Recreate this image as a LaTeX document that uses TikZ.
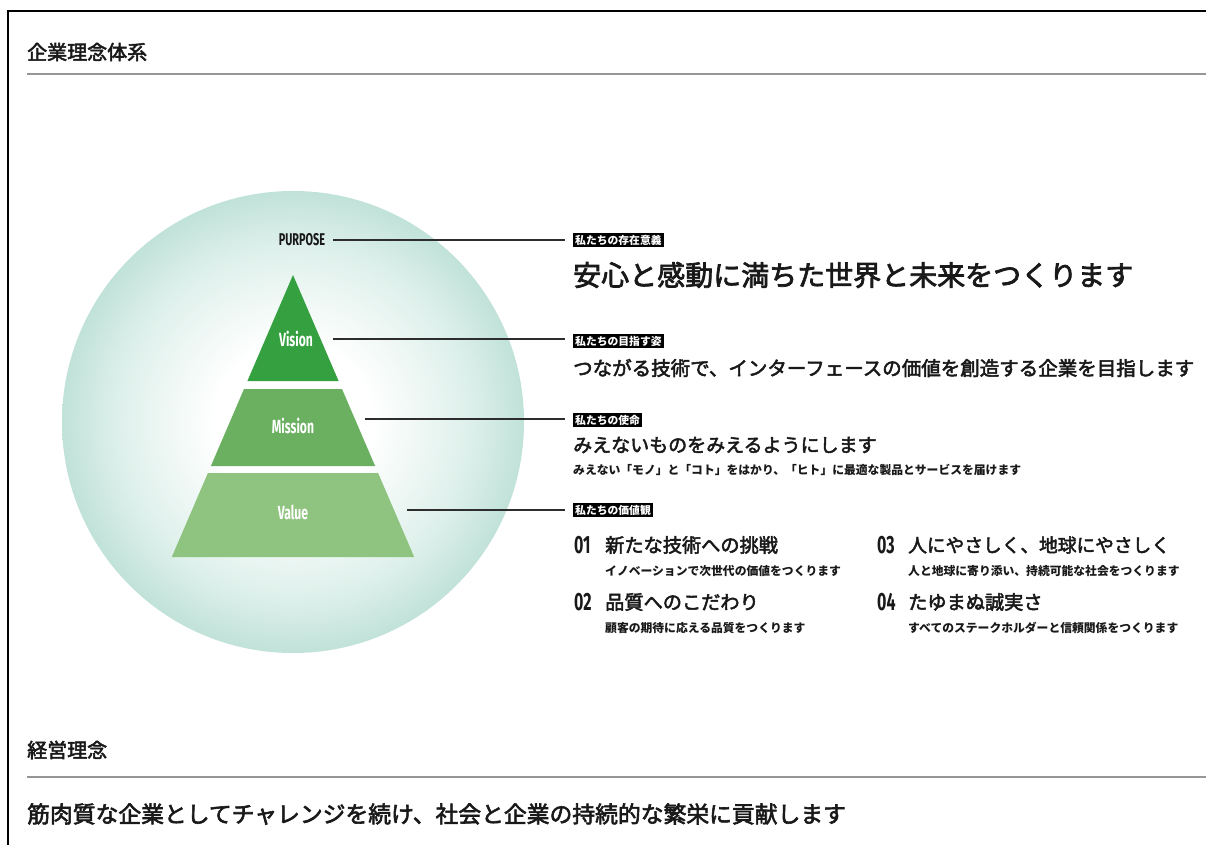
\documentclass[tikz,border=0pt]{standalone}
\usepackage{fontspec}
\setmainfont{Noto Sans CJK JP}
\newfontfamily\medf{Noto Sans CJK JP}[RawFeature={embolden=2.6}]
\newfontfamily\condf{Fira Sans}[FakeStretch=0.64]
\definecolor{orbedge}{RGB}{140,200,185}
\definecolor{orbmid}{RGB}{178,219,208}
\definecolor{orblight}{RGB}{222,240,235}
\definecolor{vis}{RGB}{52,160,64}
\definecolor{mis}{RGB}{106,176,96}
\definecolor{val}{RGB}{143,196,128}
\definecolor{ln}{RGB}{45,45,45}
\definecolor{rule}{RGB}{150,150,150}
\definecolor{ink}{RGB}{25,25,25}
\pgfdeclareradialshading{orb}{\pgfpoint{0bp}{0bp}}{color(0bp)=(white); color(8.5bp)=(white); color(19bp)=(orblight); color(28bp)=(orbmid); color(35.4bp)=(orbedge); color(50bp)=(orbedge)}
\tikzset{
  tagbox/.style={fill=black, text=white, anchor=west, inner xsep=2pt, inner ysep=2pt,
    font=\bfseries\fontsize{10.8}{12}\selectfont},
  headtxt/.style={anchor=west, inner sep=0pt, text=ink, font=\medf\fontsize{20}{24}\selectfont},
  bigtxt/.style={anchor=west, inner sep=0pt, text=ink, font=\medf\fontsize{28}{32}\selectfont},
  midtxt/.style={anchor=west, inner sep=0pt, text=ink, font=\medf\fontsize{19.5}{23}\selectfont},
  valtxt/.style={anchor=west, inner sep=0pt, text=ink, font=\medf\fontsize{19.2}{23}\selectfont},
  subtxt/.style={anchor=west, inner sep=0pt, text=ink, font=\bfseries\fontsize{11.8}{14}\selectfont},
  numtxt/.style={anchor=west, inner sep=0pt, text=ink, font=\condf\bfseries\fontsize{25}{28}\selectfont},
  pyrlabel/.style={inner sep=0pt, text=white, font=\condf\bfseries\fontsize{19}{22}\selectfont},
  conn/.style={draw=ln, line width=1.4pt, shorten >=8pt},
  hrule/.style={draw=rule, line width=1.2pt},
}
\begin{document}
\begin{tikzpicture}[x=1pt,y=-1pt]
\useasboundingbox (0,0) rectangle (1206,845);
\fill[white] (0,0) rectangle (1206,845);
% frame
\draw[black, line width=2pt] (1206,11) -- (8,11) -- (8,845);
% headings
\node[headtxt] (h1) at (27,52) {企業理念体系};
\draw[hrule] (27,74) -- (1206,74);
\node[headtxt] (h2) at (27,750) {経営理念};
\draw[hrule] (27,777) -- (1206,777);
\node[anchor=west, inner sep=0pt, text=ink, font=\medf\fontsize{22.8}{26}\selectfont] (phil) at (27,814) {筋肉質な企業としてチャレンジを続け、社会と企業の持続的な繁栄に貢献します};
% orb
\shade[shading=orb] (293,422) circle (231);
% pyramid
\fill[vis] (293,275) -- (338.6,381) -- (247.4,381) -- cycle;
\fill[mis] (244,389) -- (342,389) -- (375.1,466) -- (210.9,466) -- cycle;
\fill[val] (207.9,473) -- (378.1,473) -- (414.2,557) -- (171.8,557) -- cycle;
\node[pyrlabel] (vision) at (296,339) {Vision};
\node[pyrlabel] (mission) at (293,426) {Mission};
\node[pyrlabel] (value) at (293,512) {Value};
\node[pyrlabel, text=ink, font=\condf\bfseries\fontsize{17}{20}\selectfont] (purpose) at (302,240) {PURPOSE};
% tags
\node[tagbox] (tagP) at (573,240) {私たちの存在意義};
\node[tagbox] (tagV) at (573,341) {私たちの目指す姿};
\node[tagbox] (tagM) at (573,420) {私たちの使命};
\node[tagbox] (tagX) at (573,510) {私たちの価値観};
% connectors
\coordinate (cP) at (333,240);
\coordinate (cV) at (333,339);
\coordinate (cM) at (365,419);
\coordinate (cX) at (407,510);
\draw[conn] (cP) -- (cP -| tagP.west);
\draw[conn] (cV) -- (cV -| tagV.west);
\draw[conn] (cM) -- (cM -| tagM.west);
\draw[conn] (cX) -- (cX -| tagX.west);
% texts
\node[bigtxt] (tP) at (573,275) {安心と感動に満ちた世界と未来をつくります};
\node[midtxt] (tV) at (573,368) {つながる技術で、インターフェースの価値を創造する企業を目指します};
\node[midtxt, font=\medf\fontsize{19}{23}\selectfont] (tM) at (573,445) {みえないものをみえるようにします};
\node[subtxt] (sM) at (573,470) {みえない「モノ」と「コト」をはかり、「ヒト」に最適な製品とサービスを届けます};
% values
\node[numtxt] (n1) at (574,545) {01};
\node[valtxt] (v1) at (605,545) {新たな技術への挑戦};
\node[subtxt] (s1) at (605,571) {イノベーションで次世代の価値をつくります};
\node[numtxt] (n2) at (574,602) {02};
\node[valtxt] (v2) at (605,602) {品質へのこだわり};
\node[subtxt] (s2) at (605,628) {顧客の期待に応える品質をつくります};
\node[numtxt] (n3) at (877,545) {03};
\node[valtxt, font=\medf\fontsize{18.7}{23}\selectfont] (v3) at (908,545) {人にやさしく、地球にやさしく};
\node[subtxt] (s3) at (908,571) {人と地球に寄り添い、持続可能な社会をつくります};
\node[numtxt] (n4) at (877,602) {04};
\node[valtxt] (v4) at (908,602) {たゆまぬ誠実さ};
\node[subtxt] (s4) at (908,628) {すべてのステークホルダーと信頼関係をつくります};
\end{tikzpicture}
\end{document}
